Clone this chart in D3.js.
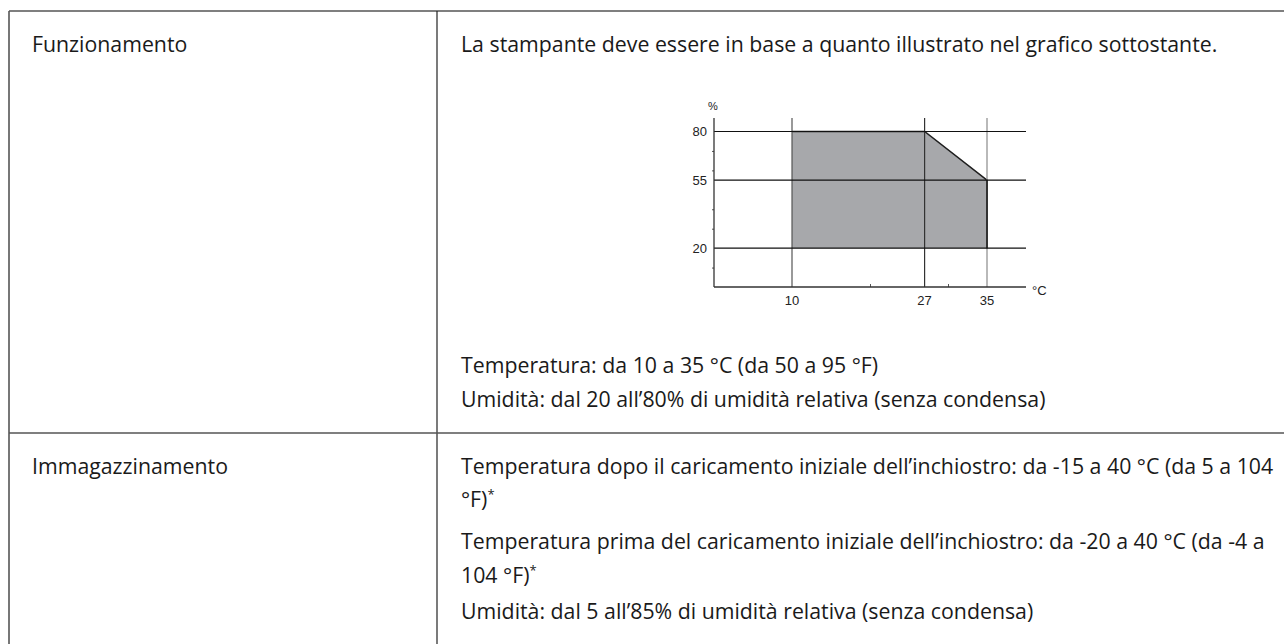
<!DOCTYPE html>
<html>
<head>
<meta charset="utf-8">
<script src="https://cdn.jsdelivr.net/npm/d3@7"></script>
<style>
  html, body { margin: 0; padding: 0; background: #fff; }
  svg { display: block; }
</style>
</head>
<body>
<svg id="page" width="1284" height="644"></svg>
<script>
// ---------- data ----------
const rowLabels = ["Funzionamento", "Immagazzinamento"];
const introText = "La stampante deve essere in base a quanto illustrato nel grafico sottostante.";
const operatingLines = [
  "Temperatura: da 10 a 35 °C (da 50 a 95 °F)",
  "Umidità: dal 20 all’80% di umidità relativa (senza condensa)"
];
const storageLines = [
  {text: "Temperatura dopo il caricamento iniziale dell’inchiostro: da -15 a 40 °C (da 5 a 104", star: false},
  {text: "°F)", star: true},
  {text: "Temperatura prima del caricamento iniziale dell’inchiostro: da -20 a 40 °C (da -4 a", star: false},
  {text: "104 °F)", star: true},
  {text: "Umidità: dal 5 all’85% di umidità relativa (senza condensa)", star: false}
];
// chart data: operating envelope (temperature °C, humidity %)
const envelopeTemp = [10, 27, 35, 35, 10];
const envelopeHum  = [80, 80, 55, 20, 20];
const xTickLabels = [10, 27, 35];
const xMinorTicks = [20, 30];
const yTickLabels = [20, 55, 80];
const yMinorTicks = [10, 30, 40, 60, 70];
const xDomain = [0, 40];
const yDomain = [0, 80];

// ---------- layout ----------
const svg = d3.select("#page");
const textFont = "'Open Sans', 'Noto Sans', sans-serif";
const chartFont = "'Liberation Sans', Arial, sans-serif";

// table lines
const table = svg.append("g").attr("stroke", "#555").attr("stroke-width", 1.6);
table.append("line").attr("x1", 9).attr("x2", 1284).attr("y1", 11).attr("y2", 11);
table.append("line").attr("x1", 9).attr("x2", 9).attr("y1", 11).attr("y2", 644);
table.append("line").attr("x1", 437).attr("x2", 437).attr("y1", 11).attr("y2", 644).attr("stroke", "#222").attr("stroke-width", 1.2);
table.append("line").attr("x1", 9).attr("x2", 1284).attr("y1", 433).attr("y2", 433);

const txt = svg.append("g").attr("font-family", textFont).attr("font-size", 21.3).attr("fill", "#1a1a1a");
txt.append("text").attr("x", 32).attr("y", 52).text(rowLabels[0]);
txt.append("text").attr("x", 32).attr("y", 474).text(rowLabels[1]);
txt.append("text").attr("x", 461).attr("y", 52).text(introText);
const opY = [373, 407];
operatingLines.forEach((t, i) => txt.append("text").attr("x", 461).attr("y", opY[i]).text(t));
const stY = [474, 507, 549, 583, 619];
storageLines.forEach((d, i) => {
  const t = txt.append("text").attr("x", 461).attr("y", stY[i]).text(d.text);
  if (d.star) t.append("tspan").attr("font-size", 13).attr("dy", -8).text("*");
});

// ---------- chart ----------
const x = d3.scaleLinear().domain(xDomain).range([714, 1026]);
const y = d3.scaleLinear().domain(yDomain).range([287, 131.5]);
const yTop = 118;
const g = svg.append("g");

// envelope polygon
const pts = envelopeTemp.map((t, i) => [x(t), y(envelopeHum[i])]);
g.append("path")
  .attr("d", d3.line()(pts) + "Z")
  .attr("fill", "#a7a8ab").attr("stroke", "none");
// darker edges: top, diagonal, right side
g.append("path")
  .attr("d", d3.line()(pts.slice(0, 4)))
  .attr("fill", "none").attr("stroke", "#1f1f1f").attr("stroke-width", 1.5);

// vertical grid lines
const vColors = ["#555", "#333", "#8a8a8a"];
g.selectAll(".vg").data(xTickLabels).join("line")
  .attr("x1", d => x(d)).attr("x2", d => x(d))
  .attr("y1", yTop).attr("y2", y(0))
  .attr("stroke", (d, i) => vColors[i]).attr("stroke-width", 1.2);
// redraw right edge of envelope on top of grey line
g.append("line")
  .attr("x1", x(35)).attr("x2", x(35)).attr("y1", y(55)).attr("y2", y(20))
  .attr("stroke", "#1f1f1f").attr("stroke-width", 1.5);
// horizontal grid lines
g.selectAll(".hg").data(yTickLabels).join("line")
  .attr("x1", x(0)).attr("x2", x(40))
  .attr("y1", d => y(d)).attr("y2", d => y(d))
  .attr("stroke", "#111").attr("stroke-width", 1.1);

// axes
const xAxis = d3.axisBottom(x).tickValues(xMinorTicks).tickSize(-3).tickFormat("");
const yAxis = d3.axisLeft(y).tickValues(yMinorTicks).tickSize(2).tickFormat("");
const xa = g.append("g").attr("transform", `translate(0,${y(0)})`).call(xAxis);
const ya = g.append("g").attr("transform", `translate(${x(0)},0)`).call(yAxis);
[xa, ya].forEach(a => { a.select(".domain").remove(); a.selectAll("line").attr("stroke", "#555"); });
g.append("line").attr("x1", x(0)).attr("x2", x(0)).attr("y1", yTop).attr("y2", y(0)).attr("stroke", "#333").attr("stroke-width", 1.3);
g.append("line").attr("x1", x(0)).attr("x2", x(40)).attr("y1", y(0)).attr("y2", y(0)).attr("stroke", "#333").attr("stroke-width", 1.3);

// labels
const lab = g.append("g").attr("font-family", chartFont).attr("font-size", 13).attr("fill", "#222");
lab.selectAll(".xl").data(xTickLabels).join("text")
  .attr("x", d => x(d)).attr("y", y(0) + 18).attr("text-anchor", "middle").text(d => d);
lab.selectAll(".yl").data(yTickLabels).join("text")
  .attr("x", x(0) - 7).attr("y", d => y(d) + 4.5).attr("text-anchor", "end").text(d => d);
lab.append("text").attr("x", x(0) - 1).attr("y", yTop - 8).attr("text-anchor", "middle").attr("font-size", 11).text("%");
lab.append("text").attr("x", x(40) + 6).attr("y", y(0) + 8).text("°C");
</script>
</body>
</html>
